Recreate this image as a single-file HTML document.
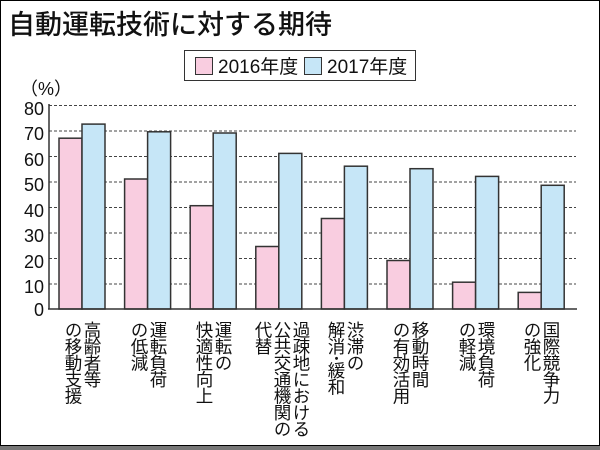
<!DOCTYPE html>
<html><head><meta charset="utf-8"><style>
body{margin:0;width:600px;height:450px;overflow:hidden;background:#fff;font-family:"Liberation Sans","Noto Sans CJK JP",sans-serif;}
.frame{position:absolute;left:0;top:0;width:598px;height:444px;border:1px solid #000;}
.gray{position:absolute;left:0;top:446px;width:600px;height:4px;background:#777;}
.title{position:absolute;left:8px;top:3px;font-size:27px;color:#111;font-weight:500;}
.lab{position:absolute;top:321px;writing-mode:vertical-rl;font-size:17.5px;line-height:19px;letter-spacing:-1px;color:#111;white-space:nowrap;}
</style></head><body>
<div class="frame"></div>
<div class="gray"></div>
<div class="title">自動運転技術に対する期待</div>
<svg width="600" height="450" style="position:absolute;left:0;top:0" font-family="Liberation Sans, Noto Sans CJK JP, sans-serif">
<rect x="184.5" y="50.5" width="231" height="30" fill="#fff" stroke="#333"/>
<rect x="195.5" y="57.5" width="17" height="17" fill="#f9cde0" stroke="#333"/>
<text x="218" y="73" font-size="19" fill="#111">2016年度</text>
<rect x="304.5" y="57.5" width="17" height="17" fill="#c6e6f7" stroke="#333"/>
<text x="327" y="73" font-size="19" fill="#111">2017年度</text>
<text x="20" y="95" font-size="18" fill="#111">（%）</text>
<g stroke="#444" stroke-dasharray="3,2" stroke-width="1">
<line x1="49" x2="576" y1="105.5" y2="105.5"/><line x1="49" x2="576" y1="131" y2="131"/>
<line x1="49" x2="576" y1="156.5" y2="156.5"/><line x1="49" x2="576" y1="182" y2="182"/>
<line x1="49" x2="576" y1="207.5" y2="207.5"/><line x1="49" x2="576" y1="233" y2="233"/>
<line x1="49" x2="576" y1="258.5" y2="258.5"/><line x1="49" x2="576" y1="284" y2="284"/>
</g>
<g font-size="18" fill="#111" text-anchor="end">
<text x="44" y="115">80</text><text x="44" y="140">70</text><text x="44" y="166">60</text><text x="44" y="191">50</text><text x="44" y="217">40</text><text x="44" y="242">30</text><text x="44" y="268">20</text><text x="44" y="293">10</text><text x="44" y="316">0</text>
</g>
<g stroke="#333" stroke-width="1.5">
<rect x="59" y="138.2" width="23" height="170.8" fill="#f9cde0"/><rect x="82" y="124.1" width="23" height="184.9" fill="#c6e6f7"/>
<rect x="124.6" y="179" width="23" height="130" fill="#f9cde0"/><rect x="147.6" y="131.8" width="23" height="177.2" fill="#c6e6f7"/>
<rect x="190.2" y="205.7" width="23" height="103.3" fill="#f9cde0"/><rect x="213.2" y="133" width="23" height="176" fill="#c6e6f7"/>
<rect x="255.8" y="246.5" width="23" height="62.5" fill="#f9cde0"/><rect x="278.8" y="153.4" width="23" height="155.6" fill="#c6e6f7"/>
<rect x="321.4" y="218.5" width="23" height="90.5" fill="#f9cde0"/><rect x="344.4" y="166.2" width="23" height="142.8" fill="#c6e6f7"/>
<rect x="387" y="260.5" width="23" height="48.5" fill="#f9cde0"/><rect x="410" y="168.7" width="23" height="140.3" fill="#c6e6f7"/>
<rect x="452.6" y="282.2" width="23" height="26.8" fill="#f9cde0"/><rect x="475.6" y="176.4" width="23" height="132.6" fill="#c6e6f7"/>
<rect x="518.2" y="292.4" width="23" height="16.6" fill="#f9cde0"/><rect x="541.2" y="185.3" width="23" height="123.7" fill="#c6e6f7"/>
</g>
<line x1="49" y1="104" x2="49" y2="309" stroke="#333" stroke-width="1.5"/>
<line x1="48" x2="577" y1="309" y2="309" stroke="#333" stroke-width="1.5"/>
</svg>
<div class="lab" style="left:63px">高齢者等<br>の移動支援</div>
<div class="lab" style="left:129px">運転負荷<br>の低減</div>
<div class="lab" style="left:194px">運転の<br>快適性向上</div>
<div class="lab" style="left:253px">過疎地における<br>公共交通機関の<br>代替</div>
<div class="lab" style="left:326px">渋滞の<br>解消･緩和</div>
<div class="lab" style="left:391px">移動時間<br>の有効活用</div>
<div class="lab" style="left:457px">環境負荷<br>の軽減</div>
<div class="lab" style="left:522px">国際競争力<br>の強化</div>
</body></html>
